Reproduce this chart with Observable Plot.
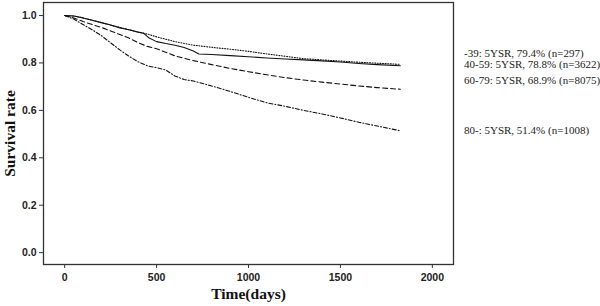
<!DOCTYPE html>
<html><head><meta charset="utf-8">
<script src="https://cdn.jsdelivr.net/npm/d3@7"></script>
<script src="https://cdn.jsdelivr.net/npm/@observablehq/plot@0.6"></script>
<style>
body{margin:0;background:#fff;}
#wrap{position:relative;width:600px;height:306px;overflow:hidden;}
.leg{position:absolute;left:464px;font:11px "Liberation Serif", serif;color:#222;white-space:nowrap;transform:translateY(-50%);}
svg g[aria-label="y-axis label"], svg g[aria-label="x-axis label"]{font-family:"Liberation Serif",serif;font-weight:bold;fill:#111;}
svg g[aria-label="y-axis label"]{font-size:15.5px;}
svg g[aria-label="x-axis label"]{font-size:15.5px;}
</style></head><body><div id="wrap"></div>
<script>
const groups = ["-39", "40-59", "60-79", "80-"];
const legendLabels = [
  "-39: 5YSR, 79.4% (n=297)",
  "40-59: 5YSR, 78.8% (n=3622)",
  "60-79: 5YSR, 68.9% (n=8075)",
  "80-: 5YSR, 51.4% (n=1008)"
];
const xTicks = [0, 500, 1000, 1500, 2000];
const yTicks = [0, 0.2, 0.4, 0.6, 0.8, 1.0];

const time39 = [0,50,100,150,200,250,300,350,400,450,500,600,700,800,900,1000,1100,1200,1300,1400,1500,1600,1700,1826];
const surv39 = [1.0,0.998,0.99,0.98,0.97,0.96,0.95,0.94,0.93,0.922,0.91,0.89,0.875,0.866,0.858,0.849,0.838,0.828,0.818,0.813,0.808,0.803,0.799,0.794];

const time4059 = [0,50,100,150,200,250,300,350,400,430,460,500,550,600,650,700,730,800,900,1000,1100,1200,1300,1400,1500,1600,1700,1826];
const surv4059 = [1.0,0.998,0.99,0.98,0.97,0.96,0.948,0.94,0.93,0.925,0.905,0.89,0.882,0.875,0.865,0.85,0.838,0.836,0.831,0.826,0.821,0.817,0.813,0.809,0.804,0.798,0.793,0.788];

const time6079 = [0,50,100,150,200,250,300,350,400,450,500,600,700,800,900,1000,1100,1200,1300,1400,1500,1600,1700,1826];
const surv6079 = [1.0,0.99,0.975,0.962,0.95,0.935,0.92,0.905,0.885,0.87,0.86,0.83,0.81,0.793,0.777,0.763,0.75,0.738,0.728,0.719,0.711,0.703,0.696,0.689];

const time80 = [0,50,100,150,200,250,300,350,400,450,500,550,600,650,700,800,900,1000,1100,1200,1300,1400,1500,1600,1700,1826];
const surv80 = [1.0,0.985,0.962,0.94,0.915,0.885,0.855,0.828,0.805,0.788,0.78,0.77,0.745,0.73,0.724,0.703,0.68,0.655,0.632,0.617,0.6,0.585,0.568,0.55,0.534,0.514];

const series = [[time39, surv39], [time4059, surv4059], [time6079, surv6079], [time80, surv80]];
const dashes = ["1,1.6", null, "5,3", "4,2,1,2"];

const rows = groups.flatMap((g, i) => series[i][0].map((t, j) => ({group: g, time: t, surv: series[i][1][j]})));

const marks = groups.map((g, i) => Plot.line(rows.filter(d => d.group === g), {
  x: "time", y: "surv", curve: "linear", stroke: "#111", strokeWidth: 1.1,
  strokeDasharray: dashes[i] ?? undefined
}));

const chart = Plot.plot({
  width: 600, height: 306,
  marginLeft: 43, marginRight: 147, marginTop: 2, marginBottom: 42,
  style: {fontFamily: "Liberation Sans, Arial, sans-serif", fontSize: "10.5px", fontWeight: "bold", color: "#222", background: "#fff"},
  x: {domain: [-115, 2115]},
  y: {domain: [-0.05, 1.055]},
  marks: [
    ...marks,
    Plot.frame({stroke: "#333", strokeWidth: 1.3}),
    Plot.axisX({ticks: xTicks, tickFormat: d3.format("d"), tickSize: 4, tickPadding: 5, stroke: "#333", label: "Time(days)", labelAnchor: "center", labelArrow: "none", labelOffset: 34}),
    Plot.axisY({ticks: yTicks, tickFormat: d3.format(".1f"), tickSize: 4, tickPadding: 3, stroke: "#333", label: "Survival rate", labelAnchor: "center", labelArrow: "none", labelOffset: 40})
  ]
});
const wrap = document.getElementById("wrap");
wrap.appendChild(chart);
const legTops = [53, 63.5, 80, 130];
legendLabels.forEach((t, i) => {
  const d = document.createElement("div");
  d.className = "leg"; d.textContent = t; d.style.top = legTops[i] + "px";
  wrap.appendChild(d);
});
</script></body></html>
